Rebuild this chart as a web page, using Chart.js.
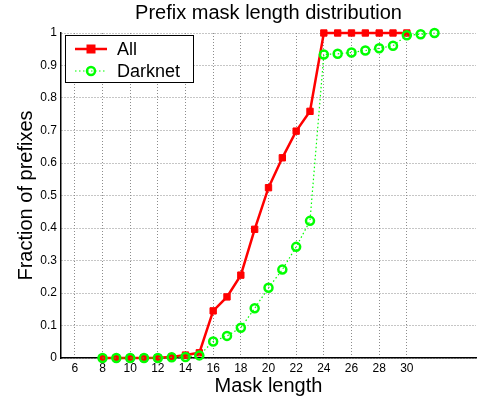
<!DOCTYPE html>
<html>
<head>
<meta charset="utf-8">
<script src="https://cdn.jsdelivr.net/npm/chart.js@4/dist/chart.umd.min.js"></script>
<style>
  html, body { margin: 0; padding: 0; background: #fff; }
  #wrap { width: 483px; height: 401px; }
</style>
</head>
<body>
<div id="wrap"><canvas id="maskChart" width="483" height="401"></canvas></div>
<script>
// mask lengths and cumulative fractions
const allLengths = [8, 9, 10, 11, 12, 13, 14, 15, 16, 17, 18, 19, 20, 21, 22, 23, 24, 25, 26, 27, 28, 29, 30];
const allFraction = [0, 0, 0, 0, 0.001, 0.003, 0.009, 0.016, 0.145, 0.188, 0.255, 0.396, 0.524, 0.616, 0.698, 0.759, 1, 1, 1, 1, 1, 1, 1];
const darknetLengths = [8, 9, 10, 11, 12, 13, 14, 15, 16, 17, 18, 19, 20, 21, 22, 23, 24, 25, 26, 27, 28, 29, 30, 31, 32];
const darknetFraction = [0, 0, 0, 0, 0, 0.002, 0.003, 0.008, 0.051, 0.068, 0.093, 0.153, 0.216, 0.272, 0.342, 0.422, 0.934, 0.936, 0.94, 0.946, 0.953, 0.961, 0.993, 0.996, 1];
const xTicks = [6, 8, 10, 12, 14, 16, 18, 20, 22, 24, 26, 28, 30];
const seriesNames = ["All", "Darknet"];
const chartTitle = "Prefix mask length distribution";

const FONT = "'Liberation Sans', Arial, Helvetica, sans-serif";

function toPoints(xs, ys) {
    return xs.map((x, i) => ({ x: x, y: ys[i] }));
}

// title centred over the plot area, like matlab does it
const titlePlugin = {
    id: "plotTitle",
    afterDraw(chart) {
        const { ctx, chartArea } = chart;
        ctx.save();
        ctx.font = "20px " + FONT;
        ctx.fillStyle = "#000";
        ctx.textAlign = "center";
        ctx.textBaseline = "middle";
        ctx.fillText(chartTitle, (chartArea.left + chartArea.right) / 2, 13);
        ctx.restore();
    },
};

// boxed legend in the upper left corner of the axes
const legendPlugin = {
    id: "boxLegend",
    afterDatasetsDraw(chart) {
        const { ctx, chartArea } = chart;
        const bx = chartArea.left + 4, by = chartArea.top + 2, bw = 128, bh = 47;
        ctx.save();
        ctx.fillStyle = "#fff";
        ctx.fillRect(bx, by, bw, bh);
        ctx.strokeStyle = "#000";
        ctx.lineWidth = 1;
        ctx.setLineDash([]);
        ctx.strokeRect(bx + 0.5, by + 0.5, bw, bh);

        chart.data.datasets.forEach((ds, i) => {
            const cy = by + 14 + i * 22;
            ctx.strokeStyle = ds.borderColor;
            ctx.lineWidth = ds.borderWidth;
            ctx.setLineDash(ds.borderDash || []);
            ctx.beginPath();
            ctx.moveTo(bx + 10, cy);
            ctx.lineTo(bx + 42, cy);
            ctx.stroke();
            ctx.setLineDash([]);
            const mx = bx + 26;
            if (ds.pointStyle === "rect") {
                ctx.fillStyle = ds.pointBackgroundColor;
                ctx.fillRect(mx - 4.5, cy - 4.5, 9, 9);
            } else {
                ctx.strokeStyle = ds.pointBorderColor;
                ctx.lineWidth = ds.pointBorderWidth;
                ctx.beginPath();
                ctx.arc(mx, cy, ds.pointRadius, 0, Math.PI * 2);
                ctx.stroke();
            }
            ctx.fillStyle = "#000";
            ctx.font = "18px " + FONT;
            ctx.textAlign = "left";
            ctx.textBaseline = "middle";
            ctx.fillText(ds.label, bx + 52, cy + 1);
        });
        ctx.restore();
    },
};

const ctx = document.getElementById("maskChart").getContext("2d");
new Chart(ctx, {
    type: "line",
    data: {
        datasets: [
            {
                label: seriesNames[0],
                data: toPoints(allLengths, allFraction),
                borderColor: "#ff0000",
                backgroundColor: "#ff0000",
                borderWidth: 2.5,
                pointStyle: "rect",
                pointRadius: 4.5,
                pointBackgroundColor: "#ff0000",
                pointBorderColor: "#ff0000",
                pointBorderWidth: 1,
                tension: 0,
                order: 1,
                clip: false,
            },
            {
                label: seriesNames[1],
                data: toPoints(darknetLengths, darknetFraction),
                borderColor: "#00ff00",
                backgroundColor: "rgba(0,0,0,0)",
                borderWidth: 1.2,
                borderDash: [1.5, 2.5],
                pointStyle: "circle",
                pointRadius: 4,
                pointBackgroundColor: "rgba(0,0,0,0)",
                pointBorderColor: "#00ff00",
                pointBorderWidth: 2.5,
                tension: 0,
                order: 0,
                clip: false,
            },
        ],
    },
    options: {
        responsive: false,
        animation: false,
        events: [],
        layout: { padding: { top: 33, right: 7, bottom: 0, left: 0 } },
        plugins: {
            legend: { display: false },
            title: { display: false },
            tooltip: { enabled: false },
        },
        scales: {
            x: {
                type: "linear",
                min: 5,
                max: 35,
                afterBuildTicks: (scale) => {
                    scale.ticks = xTicks.map((v) => ({ value: v }));
                },
                afterFit: (scale) => {
                    scale.height = 43;
                },
                ticks: {
                    color: "#000",
                    font: { family: FONT, size: 12 },
                    padding: 3,
                    maxRotation: 0,
                    autoSkip: false,
                    callback: (v) => String(v),
                },
                grid: { color: "#8c8c8c", lineWidth: 1, drawTicks: false },
                border: { display: true, color: "#000", width: 1.5, dash: [1, 2] },
                title: {
                    display: true,
                    text: "Mask length",
                    color: "#000",
                    font: { family: FONT, size: 20 },
                    padding: { top: 0, bottom: 3 },
                },
            },
            y: {
                min: 0,
                max: 1,
                afterFit: (scale) => {
                    scale.width = 61;
                },
                ticks: {
                    stepSize: 0.1,
                    color: "#000",
                    font: { family: FONT, size: 12 },
                    padding: 4,
                    callback: (v) => String(Math.round(v * 10) / 10),
                },
                grid: { color: "#8c8c8c", lineWidth: 1, drawTicks: false },
                border: { display: true, color: "#000", width: 1.5, dash: [1, 2] },
                title: {
                    display: true,
                    text: "Fraction of prefixes",
                    color: "#000",
                    font: { family: FONT, size: 20 },
                    padding: { top: 14, bottom: 0 },
                },
            },
        },
    },
    plugins: [titlePlugin, legendPlugin],
});
</script>
</body>
</html>
